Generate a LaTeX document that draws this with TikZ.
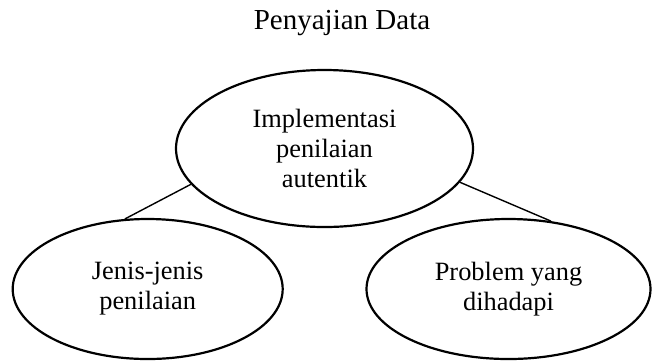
\documentclass[tikz,border=0pt]{standalone}
\usepackage{fontspec}
\setmainfont{Liberation Serif}
\usetikzlibrary{shapes.geometric}

\begin{document}
\begin{tikzpicture}[
    x=0.5pt, y=-0.5pt,
    topic/.style={ellipse, draw, line width=1.1pt, inner sep=0pt, align=center, font=\fontsize{13.2}{15}\selectfont},
    heading/.style={font=\fontsize{14.5}{17}\selectfont},
    link/.style={line width=0.7pt}
]
\useasboundingbox (0,0) rectangle (652,361);

\node[heading] (title) at (342,23) {Penyajian Data};

\node[topic, minimum width=148.5pt, minimum height=78.5pt] (impl) at (324.5,148.5) {Implementasi\\penilaian\\autentik};

\node[topic, minimum width=135pt, minimum height=70pt] (jenis) at (147.7,289) {Jenis-jenis\\penilaian};
\node[topic, minimum width=142pt, minimum height=70pt] (problem) at (508.5,289) {Problem yang\\dihadapi};

\draw[link] (impl.195) -- (jenis.108);
\draw[link] (impl.346) -- (problem.58);

\end{tikzpicture}
\end{document}
